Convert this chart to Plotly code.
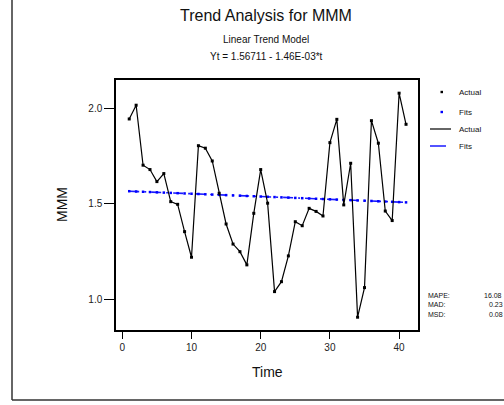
import plotly.graph_objects as go

# Time index and observed series
time = list(range(1, 42))
actual = [1.944, 2.016, 1.702, 1.679, 1.616, 1.658, 1.511, 1.497, 1.354, 1.220,
          1.804, 1.791, 1.724, 1.555, 1.394, 1.289, 1.249, 1.180, 1.450, 1.679,
          1.503, 1.040, 1.092, 1.227, 1.406, 1.385, 1.476, 1.460, 1.436, 1.820,
          1.942, 1.494, 1.712, 0.906, 1.061, 1.935, 1.817, 1.462, 1.412, 2.079,
          1.916]
# Fitted linear trend values, Yt = 1.56711 - 1.46E-03*t
fits = [1.5657, 1.5642, 1.5627, 1.5613, 1.5598, 1.5584, 1.5569, 1.5554, 1.5540, 1.5525,
        1.5511, 1.5496, 1.5481, 1.5467, 1.5452, 1.5438, 1.5423, 1.5408, 1.5394, 1.5379,
        1.5365, 1.5350, 1.5335, 1.5321, 1.5306, 1.5292, 1.5277, 1.5262, 1.5248, 1.5233,
        1.5219, 1.5204, 1.5189, 1.5175, 1.5160, 1.5146, 1.5131, 1.5116, 1.5102, 1.5087,
        1.5073]
x_ticks = [0, 10, 20, 30, 40]
y_ticks = [1.0, 1.5, 2.0]
accuracy_labels = ["MAPE:", "MAD:", "MSD:"]
accuracy_values = ["16.08", "0.23", "0.08"]
legend_labels = ["Actual", "Fits", "Actual", "Fits"]

W, H = 504, 405
L, R, T, B = 116, 418, 80, 330
FONT = "Liberation Sans, Arial, sans-serif"


def px(x):
    return (x - L) / (R - L)


def py(y):
    return (B - y) / (B - T)


fig = go.Figure()
fig.add_trace(go.Scatter(
    x=time, y=fits, mode="lines+markers",
    line=dict(color="#1a1aff", width=1.6, dash="10px,5px,2px,5px"),
    marker=dict(color="#0000ff", size=2.5, symbol="square"),
    showlegend=False, hoverinfo="skip"))
fig.add_trace(go.Scatter(
    x=time, y=actual, mode="lines+markers",
    line=dict(color="#000000", width=1.2),
    marker=dict(color="#000000", size=3, symbol="square"),
    showlegend=False, hoverinfo="skip"))

axis_common = dict(
    showgrid=False, zeroline=False, showline=True, linecolor="#000000",
    linewidth=1.5, mirror=True, ticks="outside", tickcolor="#000000",
    tickwidth=1, tickfont=dict(family=FONT, size=10, color="#222222"))
fig.update_xaxes(range=[-0.91, 42.73], tickvals=x_ticks, ticklen=7, **axis_common)
fig.update_yaxes(range=[0.839, 2.148], tickvals=y_ticks, tickformat=".1f",
                 ticklen=10, **axis_common)

ann = []
ann.append(dict(text="Trend Analysis for MMM", x=px(266), y=py(15),
                font=dict(size=16, color="#111111")))
ann.append(dict(text="Linear Trend Model", x=px(266), y=py(39),
                font=dict(size=10, color="#111111")))
ann.append(dict(text="Yt = 1.56711 - 1.46E-03*t", x=px(266), y=py(57),
                font=dict(size=10, color="#111111")))
ann.append(dict(text="Time", x=px(267), y=py(372),
                font=dict(size=14, color="#111111")))
ann.append(dict(text="MMM", x=px(62), y=py(205), textangle=-90,
                font=dict(size=14, color="#111111")))

# Legend entries
leg_y = [92, 112, 129, 146]
for lab, yy in zip(legend_labels, leg_y):
    ann.append(dict(text=lab, x=px(457), y=py(yy), xanchor="left",
                    font=dict(size=8, color="#111111")))

# Accuracy measures
acc_y = [295, 304, 314]
val_x = [482, 487, 487]
for lab, val, yy, vx in zip(accuracy_labels, accuracy_values, acc_y, val_x):
    ann.append(dict(text=lab, x=px(426), y=py(yy), xanchor="left",
                    font=dict(size=7, color="#111111")))
    ann.append(dict(text=val, x=px(vx), y=py(yy), xanchor="left",
                    font=dict(size=7, color="#111111")))

for a in ann:
    a.update(xref="paper", yref="paper", showarrow=False)
    a.setdefault("xanchor", "center")
    a.setdefault("yanchor", "middle")
    a["font"]["family"] = FONT

shapes = []
# outer frame (left and bottom edges)
shapes.append(dict(type="line", xref="paper", yref="paper",
                   x0=px(12), x1=px(12), y0=py(400), y1=py(0),
                   line=dict(color="#333333", width=1.5)))
shapes.append(dict(type="line", xref="paper", yref="paper",
                   x0=px(12), x1=px(504), y0=py(400), y1=py(400),
                   line=dict(color="#333333", width=1.5)))
# legend symbols
shapes.append(dict(type="rect", xref="paper", yref="paper",
                   x0=px(440.5), x1=px(443), y0=py(93.2), y1=py(90.8),
                   fillcolor="#000000", line=dict(width=0)))
shapes.append(dict(type="rect", xref="paper", yref="paper",
                   x0=px(440.5), x1=px(443), y0=py(113.2), y1=py(110.8),
                   fillcolor="#0000ff", line=dict(width=0)))
shapes.append(dict(type="line", xref="paper", yref="paper",
                   x0=px(430), x1=px(451), y0=py(129), y1=py(129),
                   line=dict(color="#000000", width=1.2)))
shapes.append(dict(type="line", xref="paper", yref="paper",
                   x0=px(430), x1=px(446), y0=py(146), y1=py(146),
                   line=dict(color="#1a1aff", width=1.5)))

fig.update_layout(
    width=W, height=H,
    margin=dict(l=L, r=W - R, t=T, b=H - B, pad=0),
    paper_bgcolor="#ffffff", plot_bgcolor="#ffffff",
    annotations=ann, shapes=shapes, showlegend=False,
    font=dict(family=FONT))

fig.write_html(
    "out.html",
    config={"displayModeBar": False},
    post_script="document.body.style.margin='0';"
                "document.body.style.overflow='hidden';"
                "document.documentElement.style.overflow='hidden';")
